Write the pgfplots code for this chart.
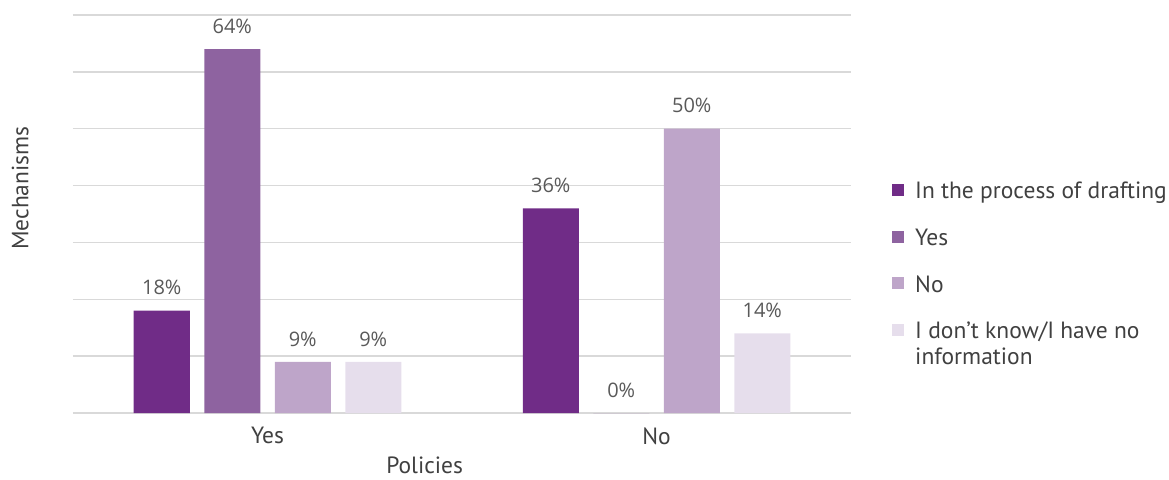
\documentclass[border=0pt]{standalone}
\usepackage{fontspec}
\setmainfont{PT Sans}
\newfontfamily\labfont{Open Sans}
\usepackage{pgfplots}
\pgfplotsset{compat=1.18}
\definecolor{cA}{HTML}{702C87}
\definecolor{cB}{HTML}{8E63A0}
\definecolor{cC}{HTML}{BEA5C9}
\definecolor{cD}{HTML}{E6DEEC}
\definecolor{gridc}{HTML}{D9D9D9}
\definecolor{txt}{HTML}{404040}
\definecolor{lab}{HTML}{595959}
\begin{document}
\begin{tikzpicture}
\begin{axis}[
  scale only axis,
  width=778pt, height=398pt,
  xmin=-0.5, xmax=1.5,
  ymin=0, ymax=70,
  ybar=14.5pt, bar width=56pt,
  axis line style={draw=none},
  xtick={0,1}, xticklabels={Yes,No},
  ytick={0,10,...,70}, yticklabels={},
  major tick length=0pt,
  ymajorgrids, grid style={gridc, line width=1.5pt},
  xticklabel style={font=\fontsize{23.5}{27}\selectfont, text=txt, yshift=-11pt},
  xlabel={Policies}, ylabel={Mechanisms},
  xlabel style={font=\fontsize{23.5}{27}\selectfont, text=txt, at={(axis description cs:0.452,-0.131)}, anchor=center},
  ylabel style={font=\fontsize{23.5}{27}\selectfont, text=txt, at={(axis description cs:-0.068,0.565)}, anchor=center},
  nodes near coords={\pgfmathprintnumber[assume math mode=true]{\pgfplotspointmeta}\%},
  every node near coord/.append style={font=\labfont\fontsize{20}{24}\selectfont, text=lab, yshift=12pt},
  legend style={draw=none, fill=none, at={(1,0.597)}, anchor=north west, xshift=38pt,
    font=\fontsize{23.5}{27}\selectfont, text=txt, row sep=22.3pt, column sep=9pt,
    cells={text height=19pt, text depth=5pt}},
  legend cell align=left,
  legend image code/.code={\fill[#1, draw=none] (0pt,-6pt) rectangle (12pt,6pt);},
]
\addplot[fill=cA, draw=none] coordinates {(0,18) (1,36)};
\addlegendentry{In the process of drafting}
\addplot[fill=cB, draw=none] coordinates {(0,64) (1,0)};
\addlegendentry{Yes}
\addplot[fill=cC, draw=none] coordinates {(0,9) (1,50)};
\addlegendentry{No}
\addplot[fill=cD, draw=none] coordinates {(0,9) (1,14)};
\addlegendentry{\begin{tabular}[t]{@{}l@{}}I don’t know/I have no\\[-1pt]information\end{tabular}}
\end{axis}
\pgfresetboundingbox
\path (-73pt,-66pt) rectangle (1096pt,413pt);
\end{tikzpicture}
\end{document}
